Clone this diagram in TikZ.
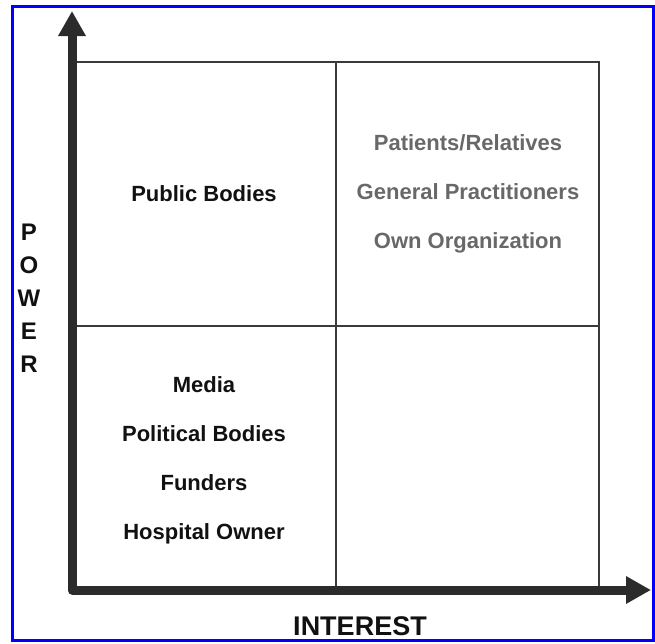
\documentclass[tikz,border=0pt]{standalone}
\usepackage{fontspec}
\setmainfont{Liberation Sans}
\usetikzlibrary{arrows.meta}
\definecolor{axisgray}{HTML}{2B2B2B}
\definecolor{gridgray}{HTML}{3A3A3A}
\definecolor{labelgray}{HTML}{686868}
\definecolor{labelblack}{HTML}{111111}
\tikzset{>={Triangle[length=25pt,width=26pt]}}
\tikzstyle{stake}=[font=\fontsize{22}{26}\selectfont\bfseries,anchor=base,inner sep=0pt,text=labelblack]
\tikzstyle{axislabel}=[font=\fontsize{24}{28}\selectfont\bfseries,anchor=base,inner sep=0pt,text=labelblack]
\tikzstyle{gridline}=[draw=gridgray,line width=2.6pt]

\begin{document}
\begin{tikzpicture}[x=1pt,y=-1pt]
	\def \xl {72};
	\def \xm {336};
	\def \xr {599};
	\def \yt {62};
	\def \ym {326};
	\def \yb {590};
	\def \gap {49}

	\useasboundingbox (0,0) rectangle (655,643);
	\draw[blue,line width=3pt] (12.5,6.5) rectangle (653.5,640);

	% grid corners
	\coordinate (tl) at (\xl,\yt);
	\coordinate (tm) at (\xm,\yt);
	\coordinate (tr) at (\xr,\yt);
	\coordinate (ml) at (\xl,\ym);
	\coordinate (mr) at (\xr,\ym);
	\coordinate (bm) at (\xm,\yb);
	\coordinate (br) at (\xr,\yb);

	\draw[gridline] (tl) -- (tr) -- (br);
	\draw[gridline] (ml) -- (mr);
	\draw[gridline] (tm) -- (bm);

	% axes
	\coordinate (origin) at (\xl,\yb);
	\coordinate (ytip) at (\xl,11);
	\coordinate (xtip) at (651,\yb);
	\draw[<->,draw=axisgray,line width=9pt,line join=round] (ytip) -- (origin) -- (xtip);

	\foreach \l [count=\i] in {P,O,W,E,R} {
		\node[axislabel] (pw\i) at (29, 240 + 33*\i - 33) {\l};
	};
	\node[axislabel,font=\fontsize{27}{30}\selectfont\bfseries] (interest) at (360,635) {INTEREST};

	\node[stake] (pub) at (204,201.5) {Public Bodies};

	\foreach \t [count=\i] in {{Patients/Relatives},{General Practitioners},{Own Organization}} {
		\node[stake,text=labelgray] (hi\i) at (468, 150 + \gap*\i - \gap) {\t};
	};

	\foreach \t [count=\i] in {Media,Political Bodies,Funders,Hospital Owner} {
		\node[stake] (lo\i) at (204, 392 + \gap*\i - \gap) {\t};
	};
\end{tikzpicture}
\end{document}
